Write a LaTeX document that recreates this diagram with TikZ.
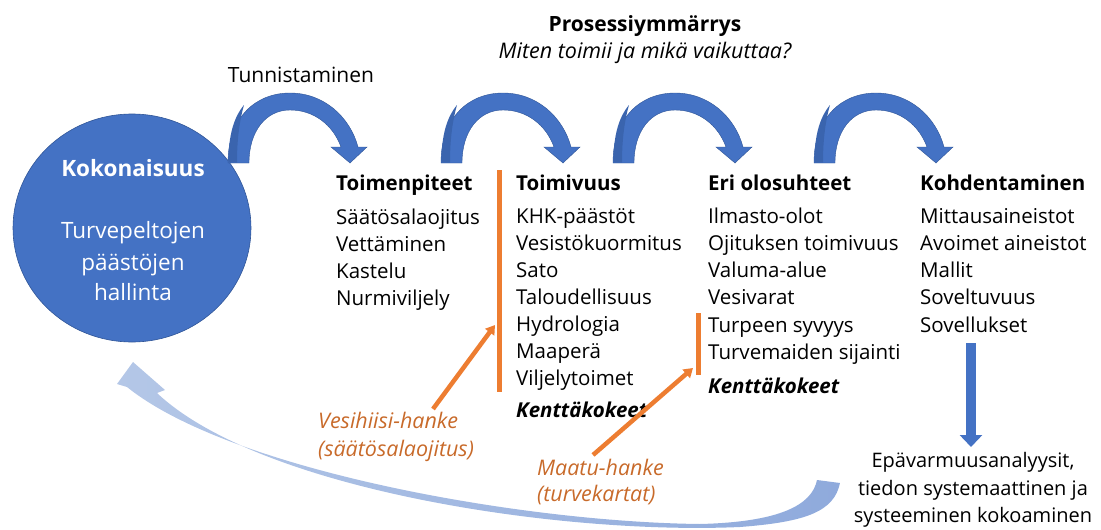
\documentclass[tikz,border=0pt]{standalone}
\usepackage{fontspec}
\setmainfont{Open Sans}
\usetikzlibrary{arrows.meta,shapes.geometric}
\definecolor{cblue}{HTML}{4472C4}
\definecolor{cbluedark}{HTML}{2F5597}
\definecolor{cblueshade}{HTML}{3A64AE}
\definecolor{corange}{HTML}{ED7D31}
\definecolor{ctxtorange}{HTML}{C86A2A}
\definecolor{lblueA}{HTML}{B4C7E7}
\definecolor{lblueB}{HTML}{8FAADC}
\newcommand\curvarrow[2]{%
  \begin{scope}[shift={(#1,#2)}]
    \fill[cblue, draw=cbluedark, line width=0.4pt]
      (0,0) .. controls (0,-46) and (28,-70) .. (62,-70)
      .. controls (96,-70) and (122,-46) .. (130,-16)
      -- (139,-16) -- (122,0) -- (103,-16) -- (113,-16)
      .. controls (105,-38) and (86,-53) .. (62,-53)
      .. controls (38,-53) and (21,-32) .. (21,0) -- cycle;
    \fill[cblueshade]
      (0.4,-0.4) .. controls (0.4,-28) and (6,-46) .. (16,-58)
      .. controls (12,-44) and (9,-26) .. (9,-0.4) -- cycle;
  \end{scope}}
\begin{document}
\begin{tikzpicture}[x=1pt,y=-1pt,
  txt/.style={font=\fontsize{20.5}{24}\selectfont, anchor=base west, inner sep=0pt},
  hd/.style={font=\fontsize{20.5}{24}\selectfont\bfseries, anchor=base west, inner sep=0pt},
  fk/.style={font=\fontsize{20.5}{24}\selectfont\bfseries\itshape, anchor=base west, inner sep=0pt},
  otxt/.style={font=\fontsize{21.5}{25}\selectfont\itshape, text=ctxtorange, anchor=base west, inner sep=0pt},
  wtxt/.style={font=\fontsize{22.5}{26}\selectfont, text=white, anchor=base, inner sep=0pt},
  obar/.style={corange, line width=5pt},
  oarrow/.style={corange, line width=4.5pt, -{Triangle[length=9pt,width=11pt]}},
  darrow/.style={cblue, line width=10pt, -{Triangle[length=12pt,width=22pt]}}]
\useasboundingbox (0,0) rectangle (1101,530);

% big circle
\node[ellipse, fill=cblue, draw=cbluedark, line width=0.6pt,
      minimum width=238pt, minimum height=228pt] (whole) at (132,228) {};
\node[wtxt, font=\fontsize{22.5}{26}\selectfont\bfseries] (wt1) at (133,176) {Kokonaisuus};
\node[wtxt] (wt2) at (133,238) {Turvepeltojen};
\node[wtxt] (wt3) at (133,270) {päästöjen};
\node[wtxt] (wt4) at (133,300) {hallinta};

% curved arrows
\curvarrow{228}{163}
\curvarrow{441}{163}
\curvarrow{613}{163}
\curvarrow{814}{163}

% titles
\node[txt, anchor=base, font=\fontsize{21}{24}\selectfont] (tunn) at (301,82) {Tunnistaminen};
\node[hd, anchor=base, font=\fontsize{21}{24}\selectfont\bfseries] (proc) at (645,31) {Prosessiymmärrys};
\node[txt, anchor=base, font=\fontsize{21.5}{24}\selectfont\itshape] (proc2) at (645,58) {Miten toimii ja mikä vaikuttaa?};

% column 1
\node[hd] (c1h) at (336,190) {Toimenpiteet};
\node[txt] (c1a) at (336,224) {Säätösalaojitus};
\node[txt] (c1b) at (336,251) {Vettäminen};
\node[txt] (c1c) at (336,278) {Kastelu};
\node[txt] (c1d) at (336,305) {Nurmiviljely};

% column 2
\node[hd] (c2h) at (516,190) {Toimivuus};
\node[txt] (c2a) at (516,223) {KHK-päästöt};
\node[txt] (c2b) at (516,250) {Vesistökuormitus};
\node[txt] (c2c) at (516,277) {Sato};
\node[txt] (c2d) at (516,304) {Taloudellisuus};
\node[txt] (c2e) at (516,331) {Hydrologia};
\node[txt] (c2f) at (516,358) {Maaperä};
\node[txt] (c2g) at (516,385) {Viljelytoimet};
\node[fk] (c2k) at (516,417) {Kenttäkokeet};

% column 3
\node[hd] (c3h) at (708,190) {Eri olosuhteet};
\node[txt] (c3a) at (708,223) {Ilmasto-olot};
\node[txt] (c3b) at (708,250) {Ojituksen toimivuus};
\node[txt] (c3c) at (708,277) {Valuma-alue};
\node[txt] (c3d) at (708,304) {Vesivarat};
\node[txt] (c3e) at (708,332) {Turpeen syvyys};
\node[txt] (c3f) at (708,359) {Turvemaiden sijainti};
\node[fk] (c3k) at (708,393) {Kenttäkokeet};

% column 4
\node[hd] (c4h) at (920,190) {Kohdentaminen};
\node[txt] (c4a) at (920,223) {Mittausaineistot};
\node[txt] (c4b) at (920,250) {Avoimet aineistot};
\node[txt] (c4c) at (920,277) {Mallit};
\node[txt] (c4d) at (920,304) {Soveltuvuus};
\node[txt] (c4e) at (920,332) {Sovellukset};

% uncertainty text
\node[font=\fontsize{20}{27.5}\selectfont, align=center, inner sep=0pt] (unc) at (973,490)
  {Epävarmuusanalyysit,\\tiedon systemaattinen ja\\systeeminen kokoaminen};

% orange bars
\coordinate (b1t) at (499,170); \coordinate (b1b) at (499,392);
\coordinate (b2t) at (698,313); \coordinate (b2b) at (698,375);
\draw[obar] (b1t) -- (b1b);
\draw[obar] (b2t) -- (b2b);

% orange project labels and arrows
\node[otxt] (ves1) at (318,428) {Vesihiisi-hanke};
\node[otxt] (ves2) at (318,456) {(säätösalaojitus)};
\node[otxt] (maa1) at (537,475) {Maatu-hanke};
\node[otxt] (maa2) at (537,501) {(turvekartat)};
\coordinate (o1s) at (433,409); \coordinate (o1e) at (495,325);
\coordinate (o2s) at (593,455); \coordinate (o2e) at (693,368);
\draw[oarrow] (o1s) -- (o1e);
\draw[oarrow] (o2s) -- (o2e);

% blue down arrow
\coordinate (ds) at (971,343); \coordinate (de) at (971,447);
\draw[darrow] (ds) -- (de);

% bottom return arrow
\shade[left color=lblueA, right color=lblueB]
  (817,480) -- (840,483)
  .. controls (834,512) and (805,522) .. (740,527)
  .. controls (560,535) and (260,490) .. (157,393)
  -- (165,390) -- (133,362) -- (117,384) -- (127,387)
  .. controls (230,470) and (520,522) .. (700,524)
  .. controls (780,522) and (812,505) .. (817,480) -- cycle;
\end{tikzpicture}
\end{document}
